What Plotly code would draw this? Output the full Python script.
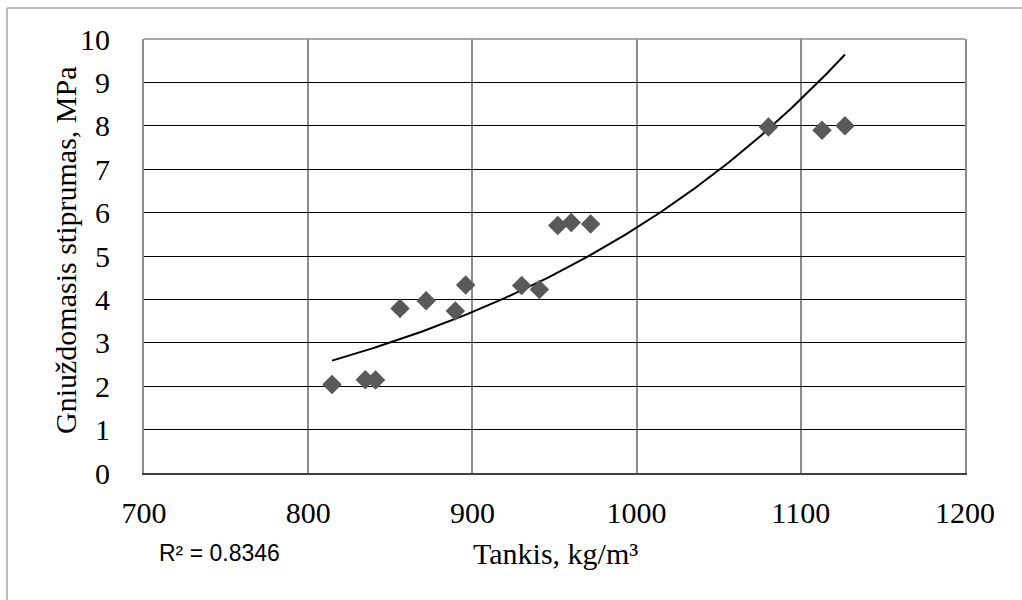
import numpy as np
import plotly.graph_objects as go

# Data
density = [814.5, 834.8, 841.0, 855.9, 871.8, 889.6, 895.9, 930.0, 940.8,
           952.0, 960.2, 972.0, 1080.3, 1112.9, 1126.9]
strength = [2.04, 2.15, 2.14, 3.79, 3.97, 3.73, 4.33, 4.32, 4.23,
            5.70, 5.77, 5.74, 7.97, 7.90, 8.00]
x_ticks = [700, 800, 900, 1000, 1100, 1200]
y_ticks = list(range(0, 11))
x_title = "Tankis, kg/m³"
y_title = "Gniuždomasis stiprumas, MPa"
r2_label = "R² = 0.8346"

W, H = 1022, 600
L, R, T, B = 144, 57, 39, 127
PW, PH = W - L - R, H - T - B

def px(xp):
    return (xp - L) / PW

def py(yp):
    return (H - B - yp) / PH

# Exponential trendline (as in the spreadsheet): ln(y) linear in x
xd = np.array(density)
yd = np.array(strength)
b, a = np.polyfit(xd, np.log(yd), 1)
xt = np.linspace(xd.min(), xd.max(), 200)
yt = np.exp(a + b * xt)

fig = go.Figure()
fig.add_trace(go.Scatter(x=xt, y=yt, mode="lines",
                         line=dict(color="black", width=2), showlegend=False,
                         hoverinfo="skip"))
fig.add_trace(go.Scatter(x=density, y=strength, mode="markers",
                         marker=dict(symbol="diamond", size=15, color="#595959",
                                     line=dict(width=0)),
                         showlegend=False))

serif = "Liberation Serif, Times New Roman, serif"

fig.update_layout(
    width=W, height=H,
    margin=dict(l=L, r=R, t=T, b=B),
    paper_bgcolor="white", plot_bgcolor="white",
    font=dict(family=serif, size=30, color="black"),
    xaxis=dict(range=[700, 1200], tickvals=x_ticks, showgrid=True,
               gridcolor="#8c8c8c", gridwidth=1.5, zeroline=False,
               showline=True, linecolor="#404040", linewidth=1.5,
               ticks="", ticklabelstandoff=12,
               tickfont=dict(family=serif, size=30, color="black")),
    yaxis=dict(range=[0, 10], tickvals=y_ticks, showgrid=True,
               gridcolor="black", gridwidth=1, zeroline=False,
               showline=True, linecolor="#8c8c8c", linewidth=2, mirror=True,
               ticks="", ticklabelstandoff=26,
               tickfont=dict(family=serif, size=30, color="black")),
    shapes=[
        dict(type="line", xref="paper", yref="paper",
             x0=px(7), x1=px(1030), y0=py(8), y1=py(8),
             line=dict(color="#a6a6a6", width=1.5)),
        dict(type="line", xref="paper", yref="paper",
             x0=px(7), x1=px(7), y0=py(8), y1=py(610),
             line=dict(color="#a6a6a6", width=1.5)),
        dict(type="line", xref="paper", yref="paper",
             x0=0, x1=1, y0=1, y1=1,
             line=dict(color="#8c8c8c", width=1.5)),
    ],
    annotations=[
        dict(text=x_title, xref="paper", yref="paper", x=px(555), y=py(553),
             showarrow=False, xanchor="center", yanchor="middle",
             font=dict(family=serif, size=30, color="black")),
        dict(text=y_title, xref="paper", yref="paper", x=px(66), y=py(250),
             showarrow=False, xanchor="center", yanchor="middle", textangle=-90,
             font=dict(family=serif, size=30, color="black")),
        dict(text=r2_label, xref="paper", yref="paper", x=px(219), y=py(553),
             showarrow=False, xanchor="center", yanchor="middle",
             font=dict(family="Liberation Sans, Arial, sans-serif", size=23,
                       color="black")),
    ],
)

fig.write_html("out.html")
